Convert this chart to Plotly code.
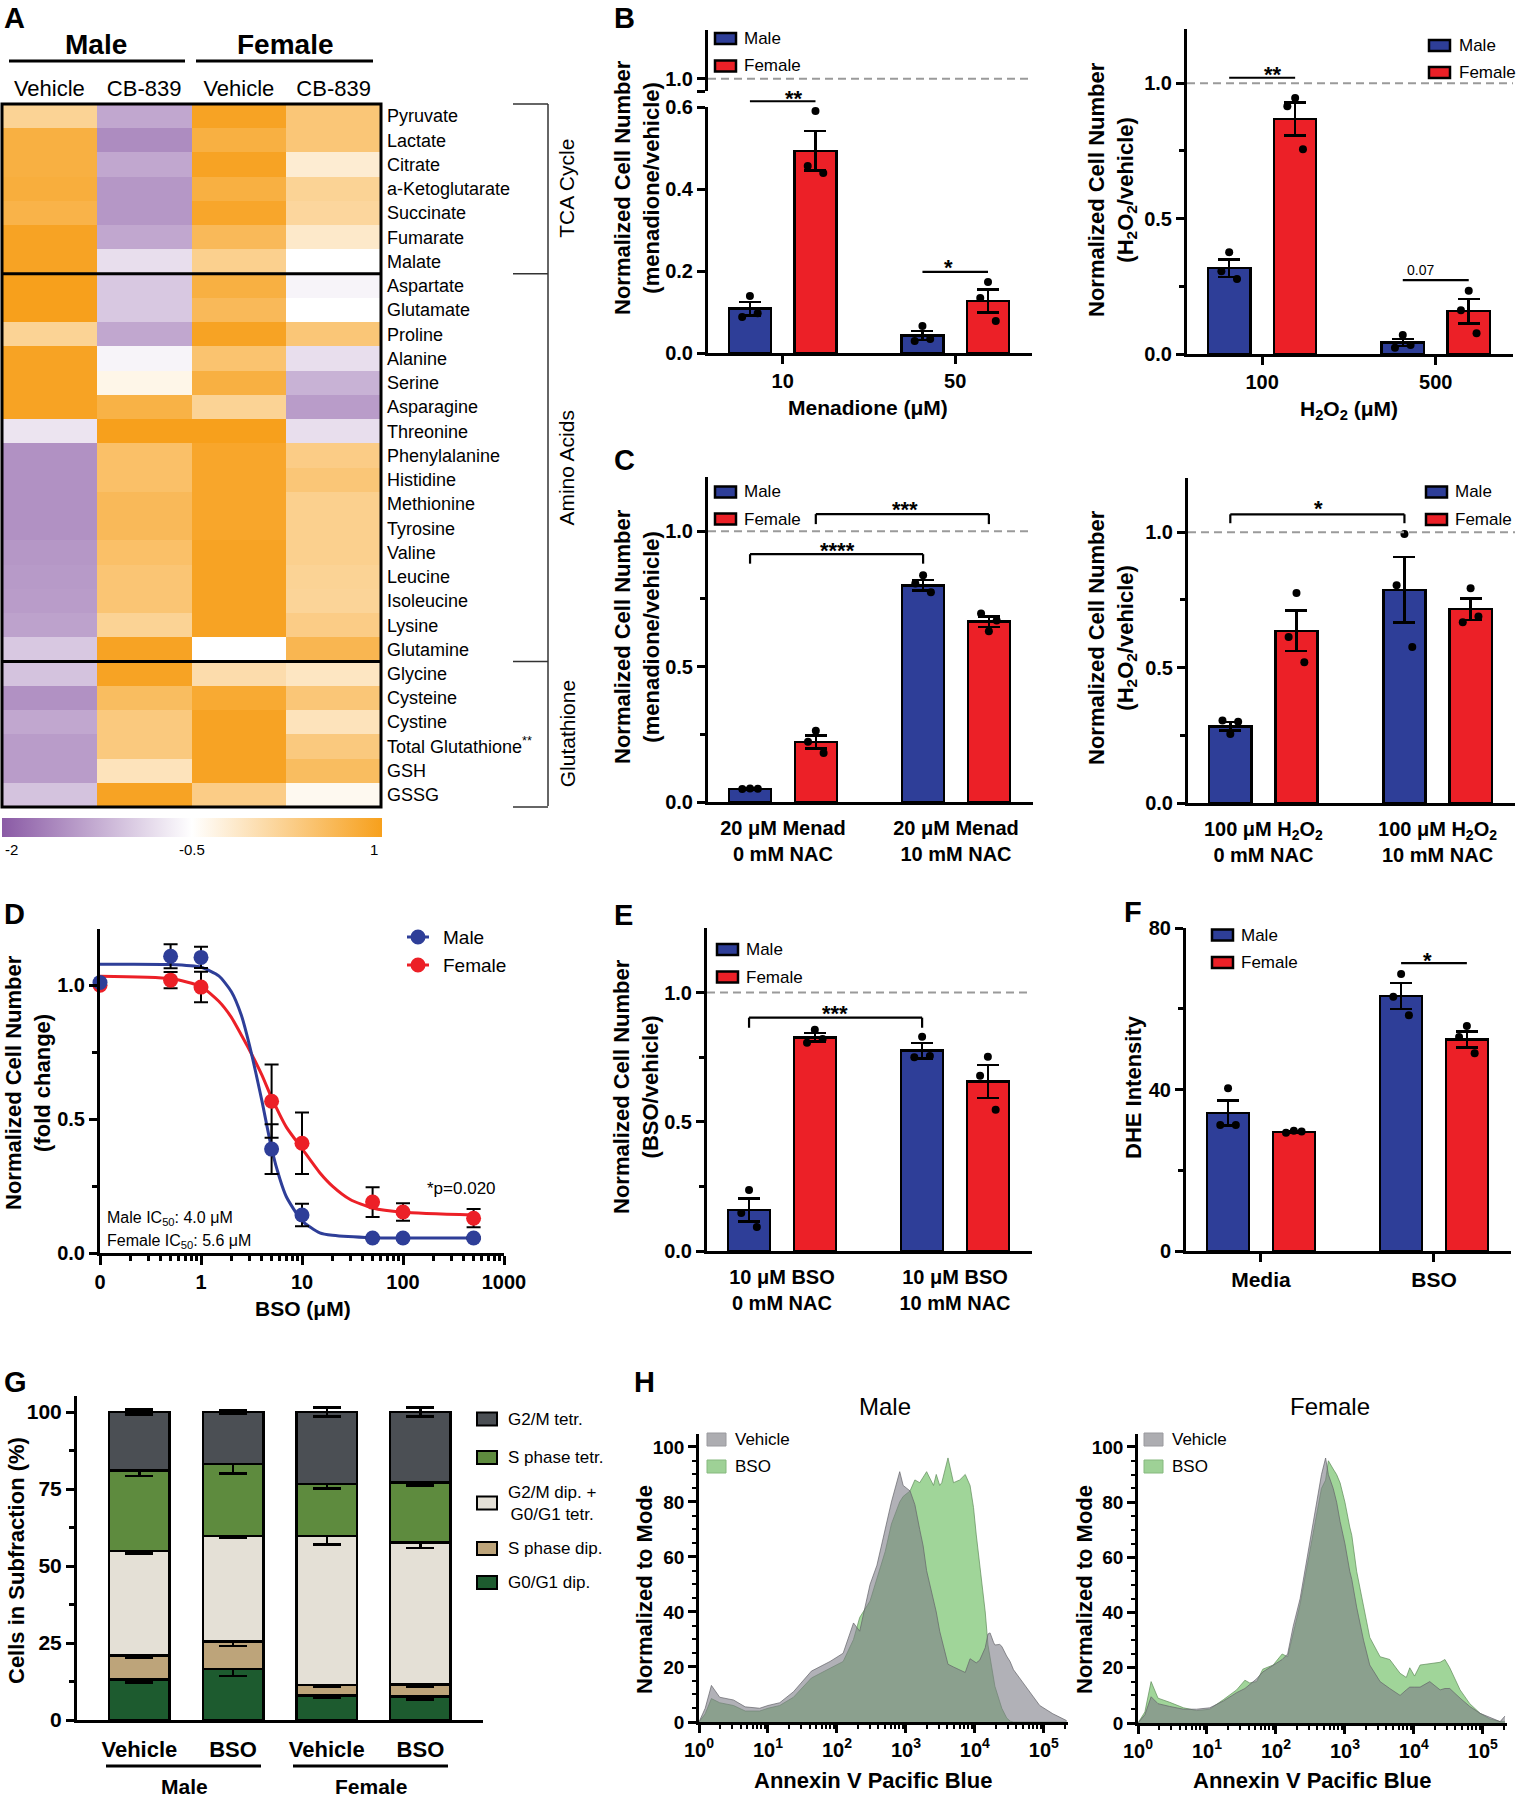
import plotly.graph_objects as go

FONT = "Liberation Sans, Arial, Helvetica, sans-serif"
W, H = 1516, 1800
BLUE = "#2E3E98"
RED = "#EC2027"

# ---------------- Panel A: heatmap data ----------------
metabolites = ["Pyruvate", "Lactate", "Citrate", "a-Ketoglutarate", "Succinate", "Fumarate", "Malate",
               "Aspartate", "Glutamate", "Proline", "Alanine", "Serine", "Asparagine", "Threonine",
               "Phenylalanine", "Histidine", "Methionine", "Tyrosine", "Valine", "Leucine", "Isoleucine",
               "Lysine", "Glutamine",
               "Glycine", "Cysteine", "Cystine", "Total Glutathione<sup>**</sup>", "GSH", "GSSG"]
heat_columns = ["Vehicle", "CB-839", "Vehicle", "CB-839"]
male_vehicle = [0.2, 0.75, 0.75, 0.78, 0.7, 0.95, 0.95,
                1.0, 1.0, 0.2, 0.95, 0.95, 0.95, -0.75, -1.5, -1.5, -1.5, -1.5, -1.45, -1.42, -1.4, -1.35, -1.0,
                -1.05, -1.5, -1.3, -1.4, -1.4, -1.05]
male_cb839 = [-1.3, -1.55, -1.3, -1.45, -1.45, -1.3, -0.8,
              -1.0, -1.0, -1.3, -0.6, -0.35, 0.72, 1.0, 0.5, 0.5, 0.6, 0.6, 0.5, 0.42, 0.42, 0.2, 0.95,
              0.95, 0.55, 0.35, 0.35, -0.05, 0.95]
female_vehicle = [0.95, 0.75, 0.95, 0.75, 0.9, 0.6, 0.25,
                  0.75, 0.6, 0.95, 0.45, 0.75, 0.2, 1.0, 0.9, 0.9, 0.9, 0.9, 0.95, 0.95, 0.95, 0.95, -0.5,
                  0.05, 0.85, 0.95, 0.95, 0.95, 0.3]
female_cb839 = [0.4, 0.4, -0.2, 0.2, 0.15, -0.15, -0.5,
                -0.6, -0.5, 0.4, -0.8, -1.2, -1.4, -0.8, 0.3, 0.4, 0.25, 0.25, 0.25, 0.2, 0.18, 0.3, 0.65,
                -0.1, 0.4, -0.05, 0.35, 0.55, -0.4]
pathway_names = ["TCA Cycle", "Amino Acids", "Glutathione"]
pathway_sizes = [7, 16, 6]
colorbar_ticks = [-2, -0.5, 1]
colorbar_ticktext = ["-2", "-0.5", "1"]

# ---------------- Panel B ----------------
men_doses = ["10", "50"]
men_male_mean = [0.108, 0.043]
men_male_sem = [0.016, 0.011]
men_male_pts = [[0.139, 0.088, 0.097], [0.066, 0.029, 0.034]]
men_female_mean = [0.493, 0.127]
men_female_sem = [0.048, 0.028]
men_female_pts = [[0.590, 0.456, 0.439], [0.173, 0.134, 0.078]]

h2o2_doses = ["100", "500"]
h2o2_male_mean = [0.317, 0.042]
h2o2_male_sem = [0.032, 0.013]
h2o2_male_pts = [[0.376, 0.306, 0.277], [0.070, 0.023, 0.033]]
h2o2_female_mean = [0.868, 0.158]
h2o2_female_sem = [0.061, 0.046]
h2o2_female_pts = [[0.945, 0.915, 0.756], [0.234, 0.162, 0.077]]

# ---------------- Panel C ----------------
cm_labels = ["20 μM Menad<br>0 mM NAC", "20 μM Menad<br>10 mM NAC"]
cm_male_mean = [0.048, 0.800]
cm_male_sem = [0.003, 0.019]
cm_male_pts = [[0.050, 0.048, 0.049], [0.837, 0.807, 0.774]]
cm_female_mean = [0.222, 0.666]
cm_female_sem = [0.024, 0.019]
cm_female_pts = [[0.263, 0.222, 0.181], [0.630, 0.696, 0.670]]

ch_labels = ["100 μM H<sub>2</sub>O<sub>2</sub><br>0 mM NAC", "100 μM H<sub>2</sub>O<sub>2</sub><br>10 mM NAC"]
ch_male_mean = [0.283, 0.787]
ch_male_sem = [0.016, 0.121]
ch_male_pts = [[0.255, 0.305, 0.300], [0.993, 0.804, 0.576]]
ch_female_mean = [0.636, 0.716]
ch_female_sem = [0.075, 0.040]
ch_female_pts = [[0.775, 0.613, 0.520], [0.793, 0.667, 0.689]]

# ---------------- Panel D ----------------
bso_conc = [0, 0.5, 1, 5, 10, 50, 100, 500]
bso_ticks = [0, 1, 10, 100, 1000]
d_male_mean = [1.01, 1.108, 1.104, 0.388, 0.142, 0.056, 0.056, 0.056]
d_male_err = [0.0, 0.045, 0.040, 0.093, 0.042, 0.004, 0.004, 0.004]
d_female_mean = [1.0, 1.019, 0.993, 0.567, 0.410, 0.190, 0.153, 0.130]
d_female_err = [0.0, 0.030, 0.057, 0.137, 0.115, 0.056, 0.033, 0.034]
male_fit_x = [0, 0.5, 1, 1.5, 2, 2.5, 3, 4, 5, 6, 7, 10, 15, 20, 50, 100, 500]
male_fit_y = [1.078, 1.077, 1.067, 1.035, 0.976, 0.89, 0.78, 0.57, 0.39, 0.28, 0.21, 0.12, 0.075, 0.066, 0.057, 0.056, 0.056]
female_fit_x = [0, 0.5, 1, 1.5, 2, 2.5, 3, 4, 5, 7, 10, 15, 20, 30, 50, 100, 500]
female_fit_y = [1.034, 1.025, 0.995, 0.94, 0.88, 0.815, 0.76, 0.665, 0.58, 0.47, 0.39, 0.30, 0.25, 0.20, 0.168, 0.152, 0.142]

# ---------------- Panel E ----------------
e_labels = ["10 μM BSO<br>0 mM NAC", "10 μM BSO<br>10 mM NAC"]
e_male_mean = [0.159, 0.775]
e_male_sem = [0.045, 0.030]
e_male_pts = [[0.236, 0.147, 0.093], [0.829, 0.750, 0.755]]
e_female_mean = [0.827, 0.656]
e_female_sem = [0.017, 0.063]
e_female_pts = [[0.856, 0.806, 0.820], [0.752, 0.678, 0.547]]

# ---------------- Panel F ----------------
f_labels = ["Media", "BSO"]
f_male_mean = [34.2, 63.2]
f_male_sem = [3.1, 3.2]
f_male_pts = [[40.3, 31.2, 31.2], [68.6, 63.0, 58.4]]
f_female_mean = [29.5, 52.4]
f_female_sem = [0.2, 2.0]
f_female_pts = [[29.8, 29.3, 29.6], [55.7, 53.0, 49.0]]

# ---------------- Panel G ----------------
g_treatments = ["Vehicle", "BSO", "Vehicle", "BSO"]
g_sexes = ["Male", "Female"]
g0g1_dip = [13.2, 16.5, 7.9, 7.6]
g0g1_dip_err = [1.1, 2.2, 0.8, 0.9]
s_dip = [7.8, 9.0, 3.5, 4.0]
s_dip_err = [0.8, 1.4, 0.7, 0.8]
g2m_dip_g0g1_tetr = [33.9, 34.3, 48.4, 46.0]
g2m_dip_g0g1_tetr_err = [0.8, 0.7, 2.8, 1.7]
s_tetr = [26.1, 23.3, 16.9, 19.5]
s_tetr_err = [1.8, 3.1, 1.5, 1.0]
g2m_tetr = [19.0, 16.9, 23.3, 22.9]
g2m_tetr_err = [0.8, 0.7, 1.5, 1.5]

# ---------------- Panel H (log10 Annexin V intensity, % of mode) ----------------
hm_log = [0, 0.09, 0.18, 0.30, 0.50, 0.67, 0.88, 1.0, 1.17, 1.37, 1.63, 1.90, 2.09, 2.24, 2.33, 2.48,
          2.58, 2.70, 2.79, 2.91, 2.96, 3.06, 3.13, 3.20, 3.25, 3.30, 3.40, 3.44, 3.49, 3.52, 3.61,
          3.69, 3.78, 3.86, 3.93, 3.98, 4.02, 4.07, 4.15, 4.19, 4.22, 4.27, 4.29, 4.36, 4.39, 4.46,
          4.51, 4.56, 4.65, 4.80, 4.94, 5.13, 5.33]
hm_vehicle = [0, 5, 13.3, 9, 8, 5.5, 5, 6, 7, 11, 18.5, 22, 25, 36, 33, 50,
              57, 70, 80, 91, 86, 84, 79, 70, 64, 55, 44, 40, 33, 30, 21,
              20, 19, 18, 23, 22, 21.5, 22.5, 27, 32, 32.4, 29, 28, 28.2, 27.5, 24,
              22, 19, 16, 11, 6, 3, 0.5]
hm_bso = [0, 3, 8.5, 7, 6, 4, 4, 5, 6, 9, 16, 19.5, 22, 30, 38, 44,
          52, 62, 72, 80, 82, 84, 88, 87, 89, 91, 86, 90, 86, 87, 96,
          87, 88, 90, 86, 78, 68, 58, 40, 28, 24, 16, 13, 7, 5, 1.5,
          0.3, 0, 0, 0, 0, 0, 0]
hf_log = [0, 0.10, 0.19, 0.29, 0.46, 0.66, 0.85, 1.04, 1.24, 1.43, 1.55, 1.62, 1.72, 1.81, 1.96,
          2.09, 2.17, 2.25, 2.35, 2.49, 2.59, 2.66, 2.72, 2.76, 2.83, 2.88, 2.93, 3.00, 3.07, 3.10,
          3.17, 3.27, 3.36, 3.51, 3.65, 3.80, 3.89, 3.94, 4.01, 4.09, 4.23, 4.38, 4.45, 4.52, 4.67,
          4.81, 4.96, 5.10, 5.25, 5.32]
hf_vehicle = [0, 3, 9.5, 7, 6, 5, 5, 5.5, 8, 11, 12.5, 14, 16, 18.5, 21,
              23, 25, 35, 45, 65, 80, 90, 96, 90, 85, 80, 73, 65, 55, 52,
              42, 30, 21, 15, 12.5, 10, 12, 13, 13, 13, 15, 12, 12.5, 12.5, 9,
              6, 3.5, 2, 0.5, 2.5]
hf_bso = [0, 4, 15, 9, 7.5, 5.5, 4.5, 5, 8.5, 12, 15.5, 14.5, 15, 19.5, 21,
          25, 24, 33, 43, 62, 75, 85, 88, 95, 92, 90, 87, 80, 71, 68,
          55, 42, 31, 24, 23, 18, 16.5, 20, 17, 21, 21.5, 22, 23, 20, 12,
          7, 3.5, 1.5, 0.5, 0.5]
h_tick_exps = [0, 1, 2, 3, 4, 5]

# =====================================================================
fig = go.Figure()
shapes, anns = [], []
lay = {}


def xd(a, b):
    return [a / W, b / W]


def yd(a, b):
    return [1 - b / H, 1 - a / H]


def fx(x):
    return x / W


def fy(y):
    return 1 - y / H


def font(size, bold=False, color="black"):
    return dict(family=FONT, size=size, color=color, weight="bold" if bold else "normal")


def add_text(x, y, s, size, bold=False, xanchor="center", yanchor="middle", angle=0):
    anns.append(dict(x=fx(x), y=fy(y), xref="paper", yref="paper", text=s, showarrow=False,
                     font=font(size, bold), xanchor=xanchor, yanchor=yanchor, textangle=angle))


def pline(x0, y0, x1, y1, w=3, color="black"):
    shapes.append(dict(type="line", xref="paper", yref="paper", x0=fx(x0), y0=fy(y0),
                       x1=fx(x1), y1=fy(y1), line=dict(color=color, width=w)))


def prect(x0, y0, x1, y1, fill, lc="black", lw=2.5):
    shapes.append(dict(type="rect", xref="paper", yref="paper", x0=fx(x0), y0=fy(y1),
                       x1=fx(x1), y1=fy(y0), fillcolor=fill, line=dict(color=lc, width=lw)))


def frac(v, r):
    return (v - r[0]) / (r[1] - r[0])


def dline(xa, ya, xr, yr, x0, y0, x1, y1, w=2.2, color="black", dash=None):
    shapes.append(dict(type="line", xref=xa + " domain", yref=ya + " domain",
                       x0=frac(x0, xr), x1=frac(x1, xr), y0=frac(y0, yr), y1=frac(y1, yr),
                       line=dict(color=color, width=w, dash=dash)))


def axis(dom, anchor, rng, tickvals=None, ticktext=None, minor=None, size=20, ticks="outside",
         ticklen=8, lw=3, is_x=False, **kw):
    d = dict(domain=xd(*dom) if is_x else yd(*dom), anchor=anchor, range=rng,
             showline=True, linecolor="black", linewidth=lw, ticks=ticks, ticklen=ticklen,
             tickwidth=lw, tickcolor="black", showgrid=False, zeroline=False,
             tickfont=font(size, True), fixedrange=True, automargin=False)
    if tickvals is not None:
        d["tickmode"] = "array"
        d["tickvals"] = tickvals
        d["ticktext"] = ticktext
    if minor is not None:
        d["minor"] = dict(tickmode="array", tickvals=minor, ticks="outside", ticklen=5,
                          tickwidth=lw, tickcolor="black", showgrid=False)
    d.update(kw)
    return d


# ---------------- Panel A ----------------
HM_X0, HM_X1, HM_Y0, HM_Y1 = 2, 381, 104, 807
CB_X0, CB_X1 = 2, 382
z = [[male_vehicle[i], male_cb839[i], female_vehicle[i], female_cb839[i]] for i in range(len(metabolites))]
fig.add_trace(go.Heatmap(
    z=z, x=list(range(4)), y=list(range(len(metabolites))), zmin=-2, zmax=1,
    colorscale=[[0, "#8A5AA5"], [0.5, "#FFFFFF"], [1, "#F7A01C"]],
    xaxis="x", yaxis="y", hoverinfo="skip",
    colorbar=dict(orientation="h", x=fx(CB_X0), xanchor="left", y=fy(818), yanchor="top",
                  len=CB_X1 - CB_X0, lenmode="pixels", thickness=19, thicknessmode="pixels",
                  outlinewidth=0, xpad=0, ypad=0, showticklabels=False, ticks="")))
for v, t in zip(colorbar_ticks, colorbar_ticktext):
    xpos = CB_X0 + (v - colorbar_ticks[0]) / (colorbar_ticks[-1] - colorbar_ticks[0]) * (CB_X1 - CB_X0)
    anchor = "left" if v == colorbar_ticks[0] else ("right" if v == colorbar_ticks[-1] else "center")
    add_text(xpos + (1 if anchor == "left" else (-2 if anchor == "right" else 0)), 849, t, 15, xanchor=anchor)
lay["xaxis"] = dict(domain=xd(HM_X0, HM_X1), anchor="y", range=[-0.5, 3.5], side="top",
                    tickmode="array", tickvals=list(range(4)), ticktext=heat_columns, ticks="",
                    showline=False, showgrid=False, zeroline=False, tickfont=font(22),
                    ticklabelstandoff=3, fixedrange=True, automargin=False)
lay["yaxis"] = dict(domain=yd(HM_Y0, HM_Y1), anchor="x", range=[len(metabolites) - 0.5, -0.5], side="right",
                    tickmode="array", tickvals=list(range(len(metabolites))), ticktext=metabolites,
                    ticks="", showline=False, showgrid=False, zeroline=False, tickfont=font(18),
                    ticklabelstandoff=5, fixedrange=True, automargin=False)
shapes.append(dict(type="rect", xref="x domain", yref="y domain", x0=0, x1=1, y0=0, y1=1,
                   line=dict(color="black", width=3)))
n_rows = len(metabolites)
cum = 0
row_px = (HM_Y1 - HM_Y0) / n_rows
bracket_edges = [HM_Y0]
BR_X0, BR_X1 = 513, 548
for k, size in enumerate(pathway_sizes):
    y_top = HM_Y0 + cum * row_px
    cum += size
    y_bot = HM_Y0 + cum * row_px
    bracket_edges.append(y_bot)
    if cum < n_rows:
        shapes.append(dict(type="line", xref="x domain", yref="y domain", x0=0, x1=1,
                           y0=1 - cum / n_rows, y1=1 - cum / n_rows, line=dict(color="black", width=3)))
    add_text(567, (y_top + y_bot) / 2, pathway_names[k], 21, angle=-90)
pline(BR_X1, HM_Y0, BR_X1, HM_Y1 - 1, w=1.5, color="#333333")
for yb in bracket_edges:
    pline(BR_X0, yb, BR_X1, yb, w=1.5, color="#333333")
add_text(96, 44, "Male", 28, bold=True)
add_text(285, 44, "Female", 28, bold=True)
pline(9, 61, 185, 61, w=3)
pline(196, 61, 373, 61, w=3)

# ---------------- bar helpers ----------------
BAR_XR = [-0.433, 1.445]
OFF = 0.19
BW = 0.243
JIT = [0.0, -0.045, 0.045]


def bar_panel(xa, ya, male_mean, male_sem, male_pts, fem_mean, fem_sem, fem_pts):
    for mean, sem, col, off in ((male_mean, male_sem, BLUE, -OFF), (fem_mean, fem_sem, RED, OFF)):
        fig.add_trace(go.Bar(x=[g + off for g in range(len(mean))], y=mean, width=BW,
                             marker=dict(color=col, line=dict(color="black", width=2.5)),
                             error_y=dict(type="data", array=sem, visible=True, color="black",
                                          thickness=2.5, width=11),
                             xaxis=xa, yaxis=ya, hoverinfo="skip"))
    for pts, off in ((male_pts, -OFF), (fem_pts, OFF)):
        xs, ys = [], []
        for g, trip in enumerate(pts):
            for k, v in enumerate(trip):
                xs.append(g + off + JIT[k])
                ys.append(v)
        fig.add_trace(go.Scatter(x=xs, y=ys, mode="markers", marker=dict(color="black", size=8),
                                 xaxis=xa, yaxis=ya, hoverinfo="skip", cliponaxis=False))


def dashed_one(xa, ya, yr):
    dline(xa, ya, BAR_XR, yr, BAR_XR[0], 1.0, BAR_XR[1], 1.0, w=2, color="#9A9A9A", dash="8px,5px")


def star(xa, ya, yr, x, y, label, size=22, bold=True, shift=-5):
    anns.append(dict(x=frac(x, BAR_XR), y=frac(y, yr), xref=xa + " domain", yref=ya + " domain",
                     text=label, showarrow=False, font=font(size, bold), yanchor="middle", yshift=shift))


def sig_line(xa, ya, yr, x0, x1, y):
    dline(xa, ya, BAR_XR, yr, x0, y, x1, y)


def sig_bracket(xa, ya, yr, x0, x1, y, leg):
    dline(xa, ya, BAR_XR, yr, x0, y, x1, y)
    dline(xa, ya, BAR_XR, yr, x0, y, x0, leg)
    dline(xa, ya, BAR_XR, yr, x1, y, x1, leg)


def box_legend(x0, yc_list, text_x, size=17):
    for yc, lab, col in zip(yc_list, ["Male", "Female"], [BLUE, RED]):
        prect(x0, yc - 5.5, x0 + 21, yc + 5.5, col)
        add_text(text_x, yc, lab, size, xanchor="left")


# ---------------- Panel B (left, broken axis) ----------------
yrB_lo = [0, 0.6]
yrB_hi = [0.97, 1.12]
bar_panel("x2", "y2", men_male_mean, men_male_sem, men_male_pts, men_female_mean, men_female_sem, men_female_pts)
fig.add_trace(go.Scatter(x=[0], y=[1.0], mode="markers", marker=dict(opacity=0), xaxis="x2", yaxis="y3",
                         hoverinfo="skip"))
lay["xaxis2"] = axis((708, 1032), "y2", BAR_XR, [0, 1], men_doses, is_x=True)
lay["yaxis2"] = axis((107, 353), "x2", yrB_lo, [0, 0.2, 0.4, 0.6], ["0.0", "0.2", "0.4", "0.6"])
lay["yaxis3"] = axis((30, 91), "x2", yrB_hi, [0.97, 1.0], ["", "1.0"])
dashed_one("x2", "y3", yrB_hi)
sig_line("x2", "y2", yrB_lo, -OFF, OFF, 0.614)
star("x2", "y2", yrB_lo, 0, 0.634, "**")
sig_line("x2", "y2", yrB_lo, 1 - OFF, 1 + OFF, 0.198)
star("x2", "y2", yrB_lo, 1, 0.22, "*")
box_legend(715, [38.5, 66], 742)
add_text(637, 188, "Normalized Cell Number<br>(menadione/vehicle)", 22, bold=True, angle=-90)
add_text(868, 407, "Menadione (μM)", 21, bold=True)

# ---------------- Panel B (right) ----------------
yr12 = [0, 1.2]
bar_panel("x4", "y4", h2o2_male_mean, h2o2_male_sem, h2o2_male_pts, h2o2_female_mean, h2o2_female_sem,
          h2o2_female_pts)
lay["xaxis4"] = axis((1187, 1513), "y4", BAR_XR, [0, 1], h2o2_doses, is_x=True)
lay["yaxis4"] = axis((29, 354), "x4", yr12, [0, 0.5, 1.0], ["0.0", "0.5", "1.0"], minor=[0.25, 0.75])
dashed_one("x4", "y4", yr12)
sig_line("x4", "y4", yr12, -OFF, OFF, 1.02)
star("x4", "y4", yr12, 0, 1.05, "**")
sig_line("x4", "y4", yr12, 1 - OFF, 1 + OFF, 0.273)
star("x4", "y4", yr12, 1, 0.31, "0.07", size=14, bold=False, shift=0)
box_legend(1429, [45.5, 72.5], 1457)
add_text(1112, 190, "Normalized Cell Number<br>(H<sub>2</sub>O<sub>2</sub>/vehicle)", 22, bold=True, angle=-90)
add_text(1349, 410, "H<sub>2</sub>O<sub>2</sub> (μM)", 21, bold=True)

# ---------------- Panel C (left) ----------------
bar_panel("x5", "y5", cm_male_mean, cm_male_sem, cm_male_pts, cm_female_mean, cm_female_sem, cm_female_pts)
lay["xaxis5"] = axis((708, 1033), "y5", BAR_XR, [0, 1], cm_labels, is_x=True, ticks="", ticklabelstandoff=6)
lay["yaxis5"] = axis((477, 802), "x5", yr12, [0, 0.5, 1.0], ["0.0", "0.5", "1.0"], minor=[0.25, 0.75])
dashed_one("x5", "y5", yr12)
sig_bracket("x5", "y5", yr12, -OFF, 1 - OFF, 0.915, 0.88)
star("x5", "y5", yr12, 0.314, 0.948, "****")
sig_bracket("x5", "y5", yr12, OFF, 1 + OFF, 1.063, 1.026)
star("x5", "y5", yr12, 0.703, 1.10, "***")
box_legend(715, [492, 519], 742)
add_text(637, 637, "Normalized Cell Number<br>(menadione/vehicle)", 22, bold=True, angle=-90)

# ---------------- Panel C (right) ----------------
bar_panel("x6", "y6", ch_male_mean, ch_male_sem, ch_male_pts, ch_female_mean, ch_female_sem, ch_female_pts)
lay["xaxis6"] = axis((1188, 1515), "y6", BAR_XR, [0, 1], ch_labels, is_x=True, ticks="", ticklabelstandoff=6)
lay["yaxis6"] = axis((478, 803), "x6", yr12, [0, 0.5, 1.0], ["0.0", "0.5", "1.0"], minor=[0.25, 0.75])
dashed_one("x6", "y6", yr12)
sig_bracket("x6", "y6", yr12, -OFF, 1 - OFF, 1.066, 1.033)
star("x6", "y6", yr12, 0.314, 1.107, "*")
box_legend(1426, [492, 519.5], 1453)
add_text(1112, 638, "Normalized Cell Number<br>(H<sub>2</sub>O<sub>2</sub>/vehicle)", 22, bold=True, angle=-90)

# ---------------- Panel D ----------------
D_ZERO = 0.1  # axis position used for the 0 concentration


def dpos(vals):
    return [v if v > 0 else D_ZERO for v in vals]


fig.add_trace(go.Scatter(x=dpos(female_fit_x), y=female_fit_y, mode="lines",
                         line=dict(color=RED, width=3, shape="spline", smoothing=0.6),
                         xaxis="x7", yaxis="y7", hoverinfo="skip"))
fig.add_trace(go.Scatter(x=dpos(male_fit_x), y=male_fit_y, mode="lines",
                         line=dict(color=BLUE, width=3, shape="spline", smoothing=0.6),
                         xaxis="x7", yaxis="y7", hoverinfo="skip"))
for mean, err, col in ((d_female_mean, d_female_err, RED), (d_male_mean, d_male_err, BLUE)):
    fig.add_trace(go.Scatter(x=dpos(bso_conc), y=mean, mode="markers", marker=dict(color=col, size=15),
                             error_y=dict(type="data", array=err, visible=True, color="black", thickness=2, width=7),
                             xaxis="x7", yaxis="y7", hoverinfo="skip", cliponaxis=False))
d_minor = [m * 10 ** e for e in range(-1, 3) for m in range(2, 10)]
lay["xaxis7"] = axis((100, 504), "y7", [-1, 3], dpos(bso_ticks), [str(t) for t in bso_ticks],
                     size=20, is_x=True, type="log", ticklen=9)
lay["xaxis7"]["minor"] = dict(tickmode="array", tickvals=d_minor, ticks="outside", ticklen=5, tickwidth=3,
                              tickcolor="black", showgrid=False)
lay["yaxis7"] = axis((929, 1253), "x7", [0, 1.21], [0, 0.5, 1.0], ["0.0", "0.5", "1.0"], minor=[0.25, 0.75])
for yc, lab, col in ((937, "Male", BLUE), (965, "Female", RED)):
    pline(407, yc, 429, yc, w=3, color=col)
    shapes.append(dict(type="circle", xref="paper", yref="paper", x0=fx(410.5), x1=fx(425.5), y0=fy(yc + 7.5),
                       y1=fy(yc - 7.5), fillcolor=col, line=dict(color=col, width=0)))
    add_text(441, yc, lab, 19, xanchor="left")
add_text(461, 1188, "*p=0.020", 17)
add_text(105, 1218, "Male IC<sub>50</sub>: 4.0 μM", 16, xanchor="left")
add_text(105, 1241, "Female IC<sub>50</sub>: 5.6 μM", 16, xanchor="left")
add_text(28, 1083, "Normalized Cell Number<br>(fold change)", 22, bold=True, angle=-90)
add_text(303, 1308, "BSO (μM)", 21, bold=True)

# ---------------- Panel E ----------------
yrE = [0, 1.25]
bar_panel("x8", "y8", e_male_mean, e_male_sem, e_male_pts, e_female_mean, e_female_sem, e_female_pts)
lay["xaxis8"] = axis((707, 1032), "y8", BAR_XR, [0, 1], e_labels, is_x=True, ticks="", ticklabelstandoff=6)
lay["yaxis8"] = axis((928, 1251), "x8", yrE, [0, 0.5, 1.0], ["0.0", "0.5", "1.0"], minor=[0.25, 0.75])
dashed_one("x8", "y8", yrE)
sig_bracket("x8", "y8", yrE, -OFF, 1 - OFF, 0.903, 0.864)
star("x8", "y8", yrE, 0.307, 0.938, "***")
box_legend(717, [949.5, 977], 744)
add_text(636, 1087, "Normalized Cell Number<br>(BSO/vehicle)", 22, bold=True, angle=-90)

# ---------------- Panel F ----------------
yrF = [0, 80]
bar_panel("x9", "y9", f_male_mean, f_male_sem, f_male_pts, f_female_mean, f_female_sem, f_female_pts)
lay["xaxis9"] = axis((1186, 1511), "y9", BAR_XR, [0, 1], f_labels, size=21, is_x=True)
lay["yaxis9"] = axis((928, 1251), "x9", yrF, [0, 40, 80], ["0", "40", "80"], minor=[20, 60])
sig_line("x9", "y9", yrF, 1 - OFF, 1 + OFF, 71.3)
star("x9", "y9", yrF, 1, 73.3, "*")
box_legend(1212, [935, 962.5], 1239)
add_text(1133, 1087, "DHE Intensity", 22, bold=True, angle=-90)

# ---------------- Panel G ----------------
g_series = [("G0/G1 dip.", g0g1_dip, g0g1_dip_err, "#1D5B2F"),
            ("S phase dip.", s_dip, s_dip_err, "#BDA47A"),
            ("G2/M dip. +<br>G0/G1 tetr.", g2m_dip_g0g1_tetr, g2m_dip_g0g1_tetr_err, "#E4E0D6"),
            ("S phase tetr.", s_tetr, s_tetr_err, "#5E8B3E"),
            ("G2/M tetr.", g2m_tetr, g2m_tetr_err, "#4B4F54")]
for name, vals, errs, col in g_series:
    fig.add_trace(go.Bar(x=list(range(len(g_treatments))), y=vals, width=0.645,
                         marker=dict(color=col, line=dict(color="black", width=2.5)),
                         error_y=dict(type="data", array=errs, visible=True, color="black", thickness=2.5, width=14),
                         xaxis="x10", yaxis="y10", hoverinfo="skip"))
lay["xaxis10"] = axis((77, 483), "y10", [-0.666, 3.668], list(range(len(g_treatments))), g_treatments,
                      is_x=True, ticks="", ticklabelstandoff=8, size=22)
lay["yaxis10"] = axis((1396, 1720), "x10", [0, 105.2], [0, 25, 50, 75, 100], ["0", "25", "50", "75", "100"],
                      minor=[12.5, 37.5, 62.5, 87.5], size=21)
g_leg_y = [1419, 1457.5, 1503, 1548.5, 1582.5]
for (name, vals, errs, col), yc in zip(reversed(g_series), g_leg_y):
    prect(477, yc - 6.5, 497, yc + 6.5, col, lw=2)
    add_text(506, yc, name, 17, xanchor="left")
pline(106, 1766, 261, 1766, w=3)
pline(293, 1766, 448, 1766, w=3)
add_text(184, 1786, g_sexes[0], 21, bold=True)
add_text(371, 1786, g_sexes[1], 21, bold=True)
add_text(16, 1561, "Cells in Subfraction (%)", 22, bold=True, angle=-90)

# ---------------- Panel H ----------------
GRAY_FILL = "rgba(125,125,135,0.6)"
GREEN_FILL = "rgba(120,195,110,0.7)"
h_minor = [m * 10 ** e for e in range(0, 6) for m in range(2, 10) if m * 10 ** e < 10 ** 5.35]
for xa, ya, lx, veh, bso, xdom, ydom, title, tx, lx0 in (
        ("x11", "y11", hm_log, hm_vehicle, hm_bso, (699, 1068), (1434, 1722), "Male", 885, 707),
        ("x12", "y12", hf_log, hf_vehicle, hf_bso, (1138, 1507), (1434, 1723), "Female", 1330, 1144)):
    xs = [10 ** v for v in lx]
    fig.add_trace(go.Scatter(x=xs, y=bso, mode="lines", fill="tozeroy", fillcolor=GREEN_FILL,
                             line=dict(color="rgba(95,140,90,0.7)", width=1), xaxis=xa, yaxis=ya, hoverinfo="skip"))
    fig.add_trace(go.Scatter(x=xs, y=veh, mode="lines", fill="tozeroy", fillcolor=GRAY_FILL,
                             line=dict(color="rgba(100,100,105,0.7)", width=1), xaxis=xa, yaxis=ya, hoverinfo="skip"))
    n = xa[1:]
    lay["xaxis" + n] = axis(xdom, ya, [0, 5.35], [10 ** e for e in h_tick_exps],
                            ["10<sup>%d</sup>" % e for e in h_tick_exps], is_x=True, type="log", lw=2.5)
    lay["xaxis" + n]["minor"] = dict(tickmode="array", tickvals=h_minor, ticks="outside", ticklen=4,
                                     tickwidth=2, tickcolor="black", showgrid=False)
    lay["yaxis" + n] = axis(ydom, xa, [0, 104.7], [0, 20, 40, 60, 80, 100],
                            ["0", "20", "40", "60", "80", "100"], lw=2.5, size=19)
    lay["yaxis" + n]["minor"] = dict(tickmode="array", tickvals=list(range(5, 105, 5)), ticks="outside",
                                     ticklen=4, tickwidth=2, tickcolor="black", showgrid=False)
    add_text(tx, 1406, title, 24)
    prect(lx0, 1433, lx0 + 19, 1446, "#ADADB1", lc="#9A9A9E", lw=1)
    prect(lx0, 1460, lx0 + 19, 1473, "#9ED196", lc="#86B97F", lw=1)
    add_text(lx0 + 26, 1439.5, "Vehicle", 17, xanchor="left")
    add_text(lx0 + 26, 1466.5, "BSO", 17, xanchor="left")
add_text(644, 1590, "Normalized to Mode", 22, bold=True, angle=-90)
add_text(1084, 1590, "Normalized to Mode", 22, bold=True, angle=-90)
add_text(873, 1780, "Annexin V Pacific Blue", 22, bold=True)
add_text(1312, 1780, "Annexin V Pacific Blue", 22, bold=True)

# ---------------- panel letters ----------------
for letter, x, y in (("A", 2, 18), ("B", 612, 18), ("C", 612, 460), ("D", 2, 914), ("E", 612, 915),
                     ("F", 1122, 912), ("G", 2, 1382), ("H", 632, 1382)):
    add_text(x, y, letter, 29, bold=True, xanchor="left")

fig.update_layout(template="none", width=W, height=H,
                  margin=dict(l=0, r=0, t=0, b=0, pad=0, autoexpand=False),
                  paper_bgcolor="white", plot_bgcolor="white", showlegend=False, barmode="stack",
                  shapes=shapes, annotations=anns, font=dict(family=FONT, color="black"), **lay)
fig.write_html("out.html", config={"displayModeBar": False},
               post_script="document.body.style.margin='0px';document.body.style.overflow='hidden';")
